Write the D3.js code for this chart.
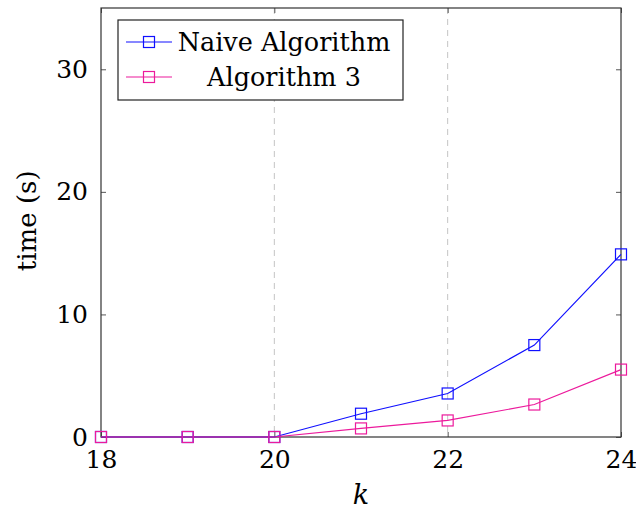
<!DOCTYPE html>
<html>
<head>
<meta charset="utf-8">
<script src="https://cdn.jsdelivr.net/npm/d3@7"></script>
<style>
  body { margin: 0; background: #fff; }
</style>
</head>
<body>
<div class="chart"></div>
<script>
// values
var kValues = [18, 19, 20, 21, 22, 23, 24];
var naiveTimes = [0, 0, 0, 1.9, 3.55, 7.5, 14.9];
var algo3Times = [0, 0, 0, 0.7, 1.35, 2.65, 5.5];
var seriesNames = ["Naive Algorithm", "Algorithm 3"];
var seriesColors = ["#1010ff", "#ec1a9c"];
var xTicks = [18, 20, 22, 24];
var yTicks = [0, 10, 20, 30];

var serif = "'DejaVu Serif', 'Liberation Serif', serif";

var margins = { top: 8, right: 15, bottom: 78, left: 101 };
var width = 636 - margins.left - margins.right;
var height = 515 - margins.top - margins.bottom;

var x = d3.scaleLinear().domain([18, 24]).range([0, width]);
var y = d3.scaleLinear().domain([0, 35]).range([height, 0]);

var svg = d3.select(".chart").append("svg")
    .attr("width", 636)
    .attr("height", 515)
    .append("g")
    .attr("transform", "translate(" + margins.left + "," + margins.top + ")");

// vertical dashed grid, inner ticks only
svg.append("g")
    .selectAll("line")
    .data(xTicks.filter(function (d) { return d > 18 && d < 24; }))
    .enter().append("line")
    .attr("x1", function (d) { return x(d); })
    .attr("x2", function (d) { return x(d); })
    .attr("y1", 0)
    .attr("y2", height)
    .attr("stroke", "#c4c4c4")
    .attr("stroke-width", 1)
    .attr("stroke-dasharray", "6,5");

// axes, ticks pointing inward on all four sides
function styleAxis(g) {
    g.attr("font-family", serif).attr("font-size", 25);
    g.select(".domain").remove();
    g.selectAll(".tick line").attr("stroke", "#555");
    g.selectAll(".tick text").attr("fill", "#000");
}

svg.append("g")
    .attr("transform", "translate(0," + height + ")")
    .call(d3.axisBottom(x).tickValues(xTicks).tickSize(-5).tickPadding(13).tickFormat(d3.format("d")))
    .call(styleAxis);

svg.append("g")
    .call(d3.axisTop(x).tickValues(xTicks).tickSize(-5).tickFormat(""))
    .call(styleAxis);

svg.append("g")
    .call(d3.axisLeft(y).tickValues(yTicks).tickSize(-5).tickPadding(13))
    .call(styleAxis);

svg.append("g")
    .attr("transform", "translate(" + width + ",0)")
    .call(d3.axisRight(y).tickValues(yTicks).tickSize(-5).tickFormat(""))
    .call(styleAxis);

svg.append("rect")
    .attr("width", width)
    .attr("height", height)
    .attr("fill", "none")
    .attr("stroke", "#333")
    .attr("stroke-width", 1.2);

// series
var series = [naiveTimes, algo3Times].map(function (vals, i) {
    return {
        name: seriesNames[i],
        color: seriesColors[i],
        points: kValues.map(function (k, j) { return { k: k, t: vals[j] }; })
    };
});

var line = d3.line()
    .x(function (d) { return x(d.k); })
    .y(function (d) { return y(d.t); });

var m = 11;
series.forEach(function (s) {
    svg.append("path")
        .datum(s.points)
        .attr("fill", "none")
        .attr("stroke", s.color)
        .attr("stroke-width", 1.2)
        .attr("d", line);

    svg.append("g")
        .selectAll("rect")
        .data(s.points)
        .enter().append("rect")
        .attr("x", function (d) { return x(d.k) - m / 2; })
        .attr("y", function (d) { return y(d.t) - m / 2; })
        .attr("width", m)
        .attr("height", m)
        .attr("fill", "none")
        .attr("stroke", s.color)
        .attr("stroke-width", 1.2);
});

// axis labels
svg.append("text")
    .attr("x", x(21))
    .attr("y", height + 67)
    .attr("text-anchor", "middle")
    .attr("font-family", serif)
    .attr("font-size", 27)
    .attr("font-style", "italic")
    .text("k");

svg.append("text")
    .attr("transform", "translate(" + (-65) + "," + (y(17.8) + 2) + ") rotate(-90)")
    .attr("text-anchor", "middle")
    .attr("font-family", serif)
    .attr("font-size", 26)
    .text("time (s)");

// legend
var legend = svg.append("g")
    .attr("transform", "translate(17,12)");

legend.append("rect")
    .attr("width", 285)
    .attr("height", 80)
    .attr("fill", "#fff")
    .attr("stroke", "#222")
    .attr("stroke-width", 1.2);

series.forEach(function (s, i) {
    var row = legend.append("g")
        .attr("transform", "translate(0," + (22 + i * 35) + ")");
    row.append("line")
        .attr("x1", 8).attr("x2", 54)
        .attr("y1", 0).attr("y2", 0)
        .attr("stroke", s.color)
        .attr("stroke-width", 1.2);
    row.append("rect")
        .attr("x", 31 - m / 2).attr("y", -m / 2)
        .attr("width", m).attr("height", m)
        .attr("fill", "none")
        .attr("stroke", s.color)
        .attr("stroke-width", 1.2);
    row.append("text")
        .attr("x", 166)
        .attr("y", 9)
        .attr("text-anchor", "middle")
        .attr("font-family", serif)
        .attr("font-size", 25.5)
        .text(s.name);
});
</script>
</body>
</html>
